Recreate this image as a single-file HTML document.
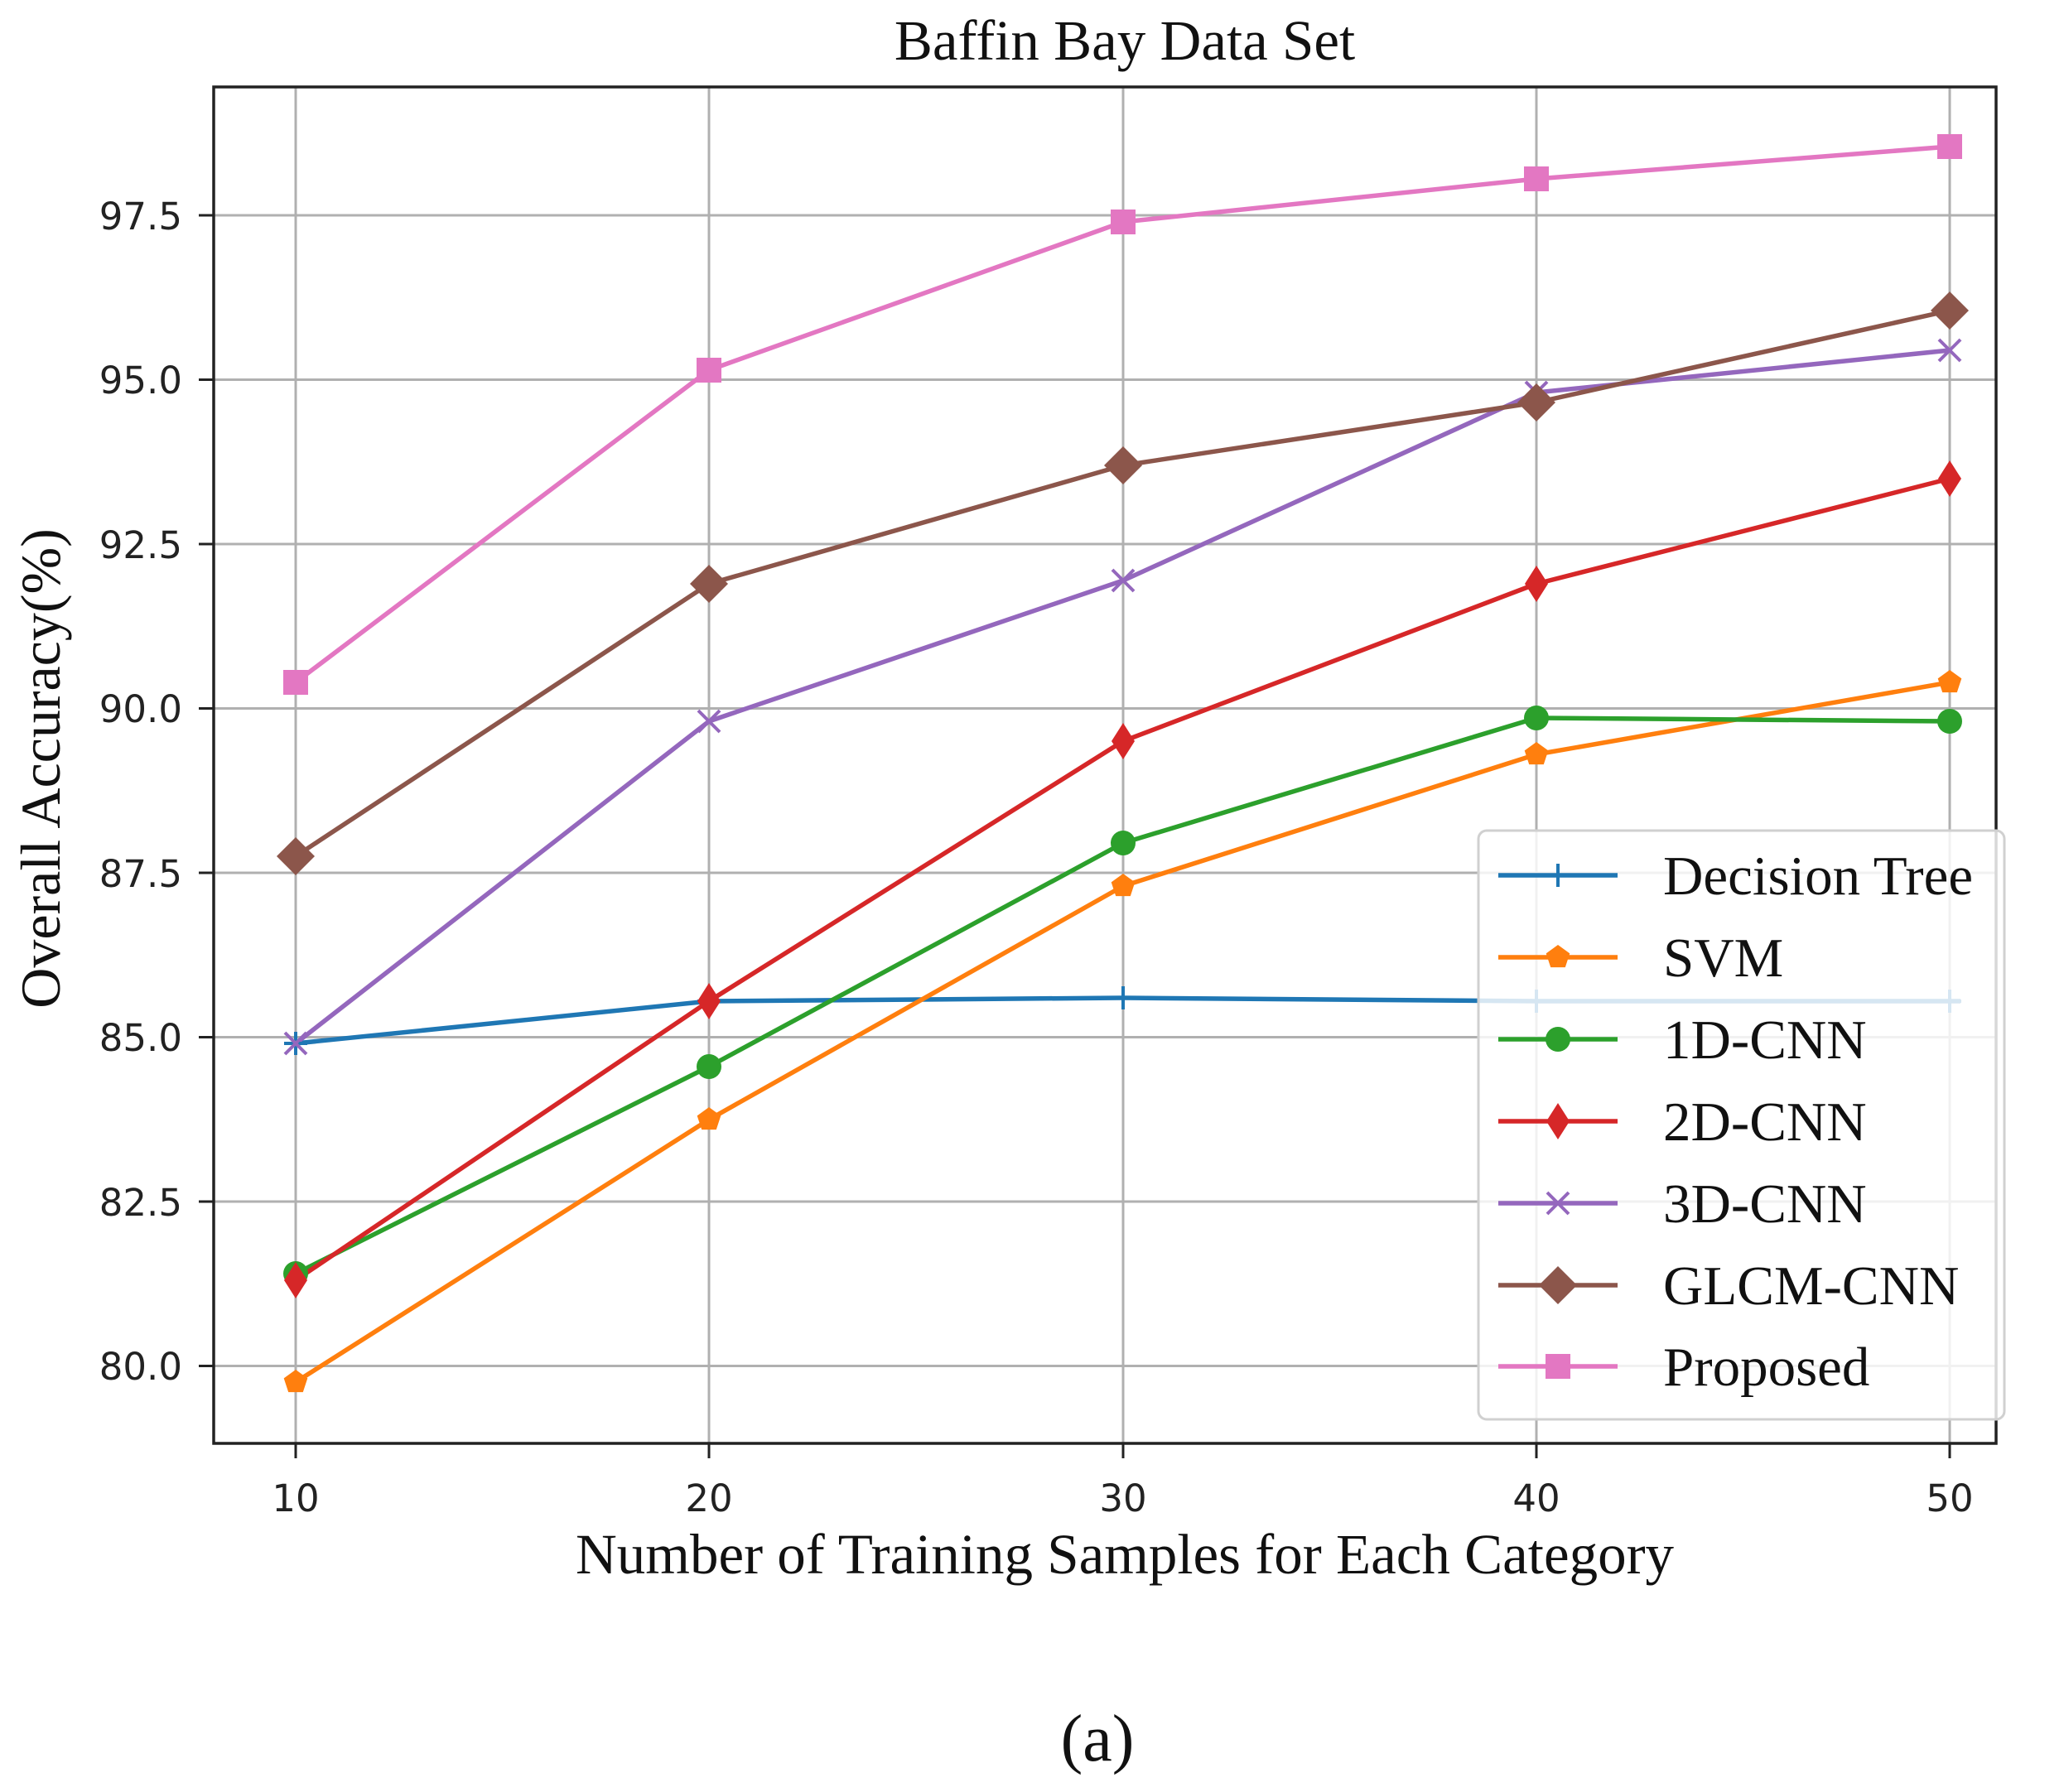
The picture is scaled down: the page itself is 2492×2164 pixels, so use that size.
<!DOCTYPE html>
<html><head><meta charset="utf-8"><style>
html,body{margin:0;padding:0;background:#fff;}
svg{display:block;}
.t{font-family:"Liberation Serif",serif;fill:#111;}
.k{font-family:"DejaVu Sans","Liberation Sans",sans-serif;fill:#222;font-size:45px;}
</style></head><body>
<svg width="2492" height="2164" viewBox="0 0 2492 2164" xmlns="http://www.w3.org/2000/svg">
<rect width="2492" height="2164" fill="#fff"/>
<g stroke="#b0b0b0" stroke-width="3">
<line x1="357" y1="105" x2="357" y2="1743"/><line x1="856" y1="105" x2="856" y2="1743"/><line x1="1356" y1="105" x2="1356" y2="1743"/><line x1="1855" y1="105" x2="1855" y2="1743"/><line x1="2354" y1="105" x2="2354" y2="1743"/>
<line x1="258" y1="1649.5" x2="2410" y2="1649.5"/><line x1="258" y1="1451" x2="2410" y2="1451"/><line x1="258" y1="1252.5" x2="2410" y2="1252.5"/><line x1="258" y1="1054" x2="2410" y2="1054"/><line x1="258" y1="855.5" x2="2410" y2="855.5"/><line x1="258" y1="657" x2="2410" y2="657"/><line x1="258" y1="458.5" x2="2410" y2="458.5"/><line x1="258" y1="260" x2="2410" y2="260"/>
</g>
<g stroke="#222" stroke-width="3">
<line x1="240" y1="1649.5" x2="258" y2="1649.5"/><line x1="240" y1="1451" x2="258" y2="1451"/><line x1="240" y1="1252.5" x2="258" y2="1252.5"/><line x1="240" y1="1054" x2="258" y2="1054"/><line x1="240" y1="855.5" x2="258" y2="855.5"/><line x1="240" y1="657" x2="258" y2="657"/><line x1="240" y1="458.5" x2="258" y2="458.5"/><line x1="240" y1="260" x2="258" y2="260"/>
<line x1="357" y1="1743" x2="357" y2="1761"/><line x1="856" y1="1743" x2="856" y2="1761"/><line x1="1356" y1="1743" x2="1356" y2="1761"/><line x1="1855" y1="1743" x2="1855" y2="1761"/><line x1="2354" y1="1743" x2="2354" y2="1761"/>
</g>
<g class="k" text-anchor="end">
<text x="220" y="1666">80.0</text><text x="220" y="1468">82.5</text><text x="220" y="1269">85.0</text><text x="220" y="1071">87.5</text><text x="220" y="872">90.0</text><text x="220" y="674">92.5</text><text x="220" y="475">95.0</text><text x="220" y="277">97.5</text>
</g>
<g class="k" text-anchor="middle">
<text x="357" y="1825">10</text><text x="856" y="1825">20</text><text x="1356" y="1825">30</text><text x="1855" y="1825">40</text><text x="2354" y="1825">50</text>
</g>
<g fill="none" stroke-width="5.5" stroke-linejoin="round">
<polyline stroke="#1f77b4" points="357,1260 856,1209 1356,1205 1855,1209 2367,1209"/>
<polyline stroke="#ff7f0e" points="357,1669 856,1352 1356,1070 1855,911 2354,824"/>
<polyline stroke="#2ca02c" points="357,1538 856,1288 1356,1018 1855,867 2354,871"/>
<polyline stroke="#d62728" points="357,1546 856,1209 1356,895 1855,705 2354,578"/>
<polyline stroke="#9467bd" points="357,1260 856,871 1356,701 1855,474 2354,423"/>
<polyline stroke="#8c564b" points="357,1034 856,705 1356,562 1855,486 2354,375"/>
<polyline stroke="#e377c2" points="357,824 856,447 1356,268 1855,216 2354,177"/>
</g>
<defs>
<path id="plus" d="M-14,0H14M0,-14V14" stroke="#1f77b4" stroke-width="4"/>
<path id="pent" d="M0,-15 L14.3,-4.6 L8.8,12.1 L-8.8,12.1 L-14.3,-4.6Z" fill="#ff7f0e"/>
<circle id="circ" r="15" fill="#2ca02c"/>
<path id="tdia" d="M0,-22 L14,0 L0,22 L-14,0Z" fill="#d62728"/>
<path id="xx" d="M-13,-13L13,13M-13,13L13,-13" stroke="#9467bd" stroke-width="4"/>
<path id="dia" d="M0,-23 L23,0 L0,23 L-23,0Z" fill="#8c564b"/>
<rect id="sq" x="-15" y="-15" width="30" height="30" fill="#e377c2"/>
</defs>
<g>
<use href="#plus" x="357" y="1260"/><use href="#plus" x="856" y="1209"/><use href="#plus" x="1356" y="1205"/><use href="#plus" x="1855" y="1209"/><use href="#plus" x="2354" y="1209"/>
<use href="#pent" x="357" y="1669"/><use href="#pent" x="856" y="1352"/><use href="#pent" x="1356" y="1070"/><use href="#pent" x="1855" y="911"/><use href="#pent" x="2354" y="824"/>
<use href="#circ" x="357" y="1538"/><use href="#circ" x="856" y="1288"/><use href="#circ" x="1356" y="1018"/><use href="#circ" x="1855" y="867"/><use href="#circ" x="2354" y="871"/>
<use href="#tdia" x="357" y="1546"/><use href="#tdia" x="856" y="1209"/><use href="#tdia" x="1356" y="895"/><use href="#tdia" x="1855" y="705"/><use href="#tdia" x="2354" y="578"/>
<use href="#xx" x="357" y="1260"/><use href="#xx" x="856" y="871"/><use href="#xx" x="1356" y="701"/><use href="#xx" x="1855" y="474"/><use href="#xx" x="2354" y="423"/>
<use href="#dia" x="357" y="1034"/><use href="#dia" x="856" y="705"/><use href="#dia" x="1356" y="562"/><use href="#dia" x="1855" y="486"/><use href="#dia" x="2354" y="375"/>
<use href="#sq" x="357" y="824"/><use href="#sq" x="856" y="447"/><use href="#sq" x="1356" y="268"/><use href="#sq" x="1855" y="216"/><use href="#sq" x="2354" y="177"/>
</g>
<rect x="258" y="105" width="2152" height="1638" fill="none" stroke="#222" stroke-width="3.5"/>
<rect x="1785" y="1003" width="635" height="711" rx="10" fill="#fff" fill-opacity="0.82" stroke="#d0d0d0" stroke-width="3"/>
<g stroke-width="5.5">
<line x1="1809" y1="1057" x2="1953" y2="1057" stroke="#1f77b4"/>
<line x1="1809" y1="1156" x2="1953" y2="1156" stroke="#ff7f0e"/>
<line x1="1809" y1="1255" x2="1953" y2="1255" stroke="#2ca02c"/>
<line x1="1809" y1="1354" x2="1953" y2="1354" stroke="#d62728"/>
<line x1="1809" y1="1453" x2="1953" y2="1453" stroke="#9467bd"/>
<line x1="1809" y1="1552" x2="1953" y2="1552" stroke="#8c564b"/>
<line x1="1809" y1="1650" x2="1953" y2="1650" stroke="#e377c2"/>
</g>
<use href="#plus" x="1881" y="1057"/><use href="#pent" x="1881" y="1156"/><use href="#circ" x="1881" y="1255"/><use href="#tdia" x="1881" y="1354"/><use href="#xx" x="1881" y="1453"/><use href="#dia" x="1881" y="1552"/><use href="#sq" x="1881" y="1650"/>
<g class="t" font-size="67">
<text x="2008" y="1080">Decision Tree</text>
<text x="2008" y="1179">SVM</text>
<text x="2008" y="1278">1D-CNN</text>
<text x="2008" y="1377">2D-CNN</text>
<text x="2008" y="1476">3D-CNN</text>
<text x="2008" y="1575">GLCM-CNN</text>
<text x="2008" y="1673">Proposed</text>
</g>
<text class="t" x="1358" y="72" font-size="69" text-anchor="middle">Baffin Bay Data Set</text>
<text class="t" x="1358" y="1900" font-size="69" text-anchor="middle">Number of Training Samples for Each Category</text>
<text class="t" transform="translate(72,928) rotate(-90)" font-size="68" text-anchor="middle">Overall Accuracy(%)</text>
<text class="t" x="1325" y="2126" font-size="80" text-anchor="middle">(a)</text>
</svg>
</body></html>
